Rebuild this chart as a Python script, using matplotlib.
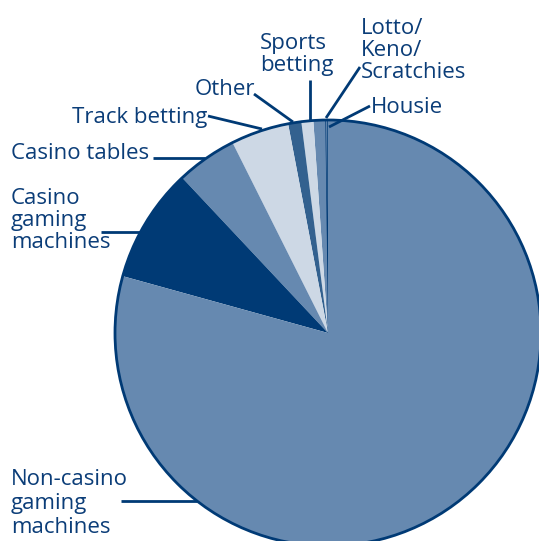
import matplotlib
matplotlib.use("Agg")
import matplotlib.pyplot as plt
from matplotlib.patches import Circle

# Share of gambling expenditure by mode (%)
categories = ["Housie", "Lotto/\nKeno/\nScratchies", "Sports\nbetting", "Other",
              "Track betting", "Casino tables", "Casino\ngaming\nmachines",
              "Non-casino\ngaming\nmachines"]
shares = [0.2, 0.9, 0.9, 1.0, 4.4, 4.6, 8.7, 79.3]

MED = "#6689b0"
LIGHT = "#cdd8e5"
DARK = "#33618f"
NAVY = "#003a75"
TEXT = "#0b3d78"
colors = [MED, MED, LIGHT, DARK, LIGHT, MED, NAVY, MED]

W, H = 539, 541
fig = plt.figure(figsize=(W / 100, H / 100), dpi=100)
ax = fig.add_axes([0, 0, 1, 1])


def px(x, y):
    """Convert image-style pixel coordinates (origin top-left) to axes data."""
    return (x, H - y)


cx, cy = px(328, 333)
R = 213

wedges, _ = ax.pie(shares, colors=colors, startangle=90, counterclock=True,
                   center=(cx, cy), radius=R, wedgeprops=dict(linewidth=0))
# thin outline on the smallest slice shows as the rule at twelve o'clock
wedges[0].set_edgecolor(NAVY)
wedges[0].set_linewidth(1.0)
ax.add_patch(Circle((cx, cy), R, fill=False, edgecolor=NAVY, linewidth=2.0,
                    zorder=5))

ax.set_xlim(0, W)
ax.set_ylim(0, H)
ax.set_aspect("equal")
ax.axis("off")

font = dict(family="Open Sans", fontsize=16, color=TEXT)

# label text anchors (left, top), line spacing and leader lines (start, end)
labels = {
    "Housie": ((371, 97), 1.0, [(370, 106), (329, 127)]),
    "Lotto/\nKeno/\nScratchies": ((361, 18), 1.075, [(360, 67), (326, 118)]),
    "Sports\nbetting": ((260, 33), 1.045, [(310, 80), (310, 120)]),
    "Other": ((195, 79), 1.0, [(254, 94), (293, 122)]),
    "Track betting": ((72, 107), 1.0, [(208, 116), (262, 129)]),
    "Casino tables": ((11, 143), 1.0, [(153, 158), (205, 158)]),
    "Casino\ngaming\nmachines": ((11, 188), 1.075, [(101, 232), (140, 232)]),
    "Non-casino\ngaming\nmachines": ((11, 469), 1.175, [(121, 501), (197, 501)]),
}

for name in categories:
    (tx, ty), spacing, line = labels[name]
    ax.text(*px(tx, ty), name, ha="left", va="top", linespacing=spacing, **font)
    (x0, y0), (x1, y1) = line
    ax.plot([px(x0, y0)[0], px(x1, y1)[0]], [px(x0, y0)[1], px(x1, y1)[1]],
            color=NAVY, linewidth=2.0, solid_capstyle="butt", zorder=6)

fig.savefig("out.png", dpi=100, facecolor="white")
